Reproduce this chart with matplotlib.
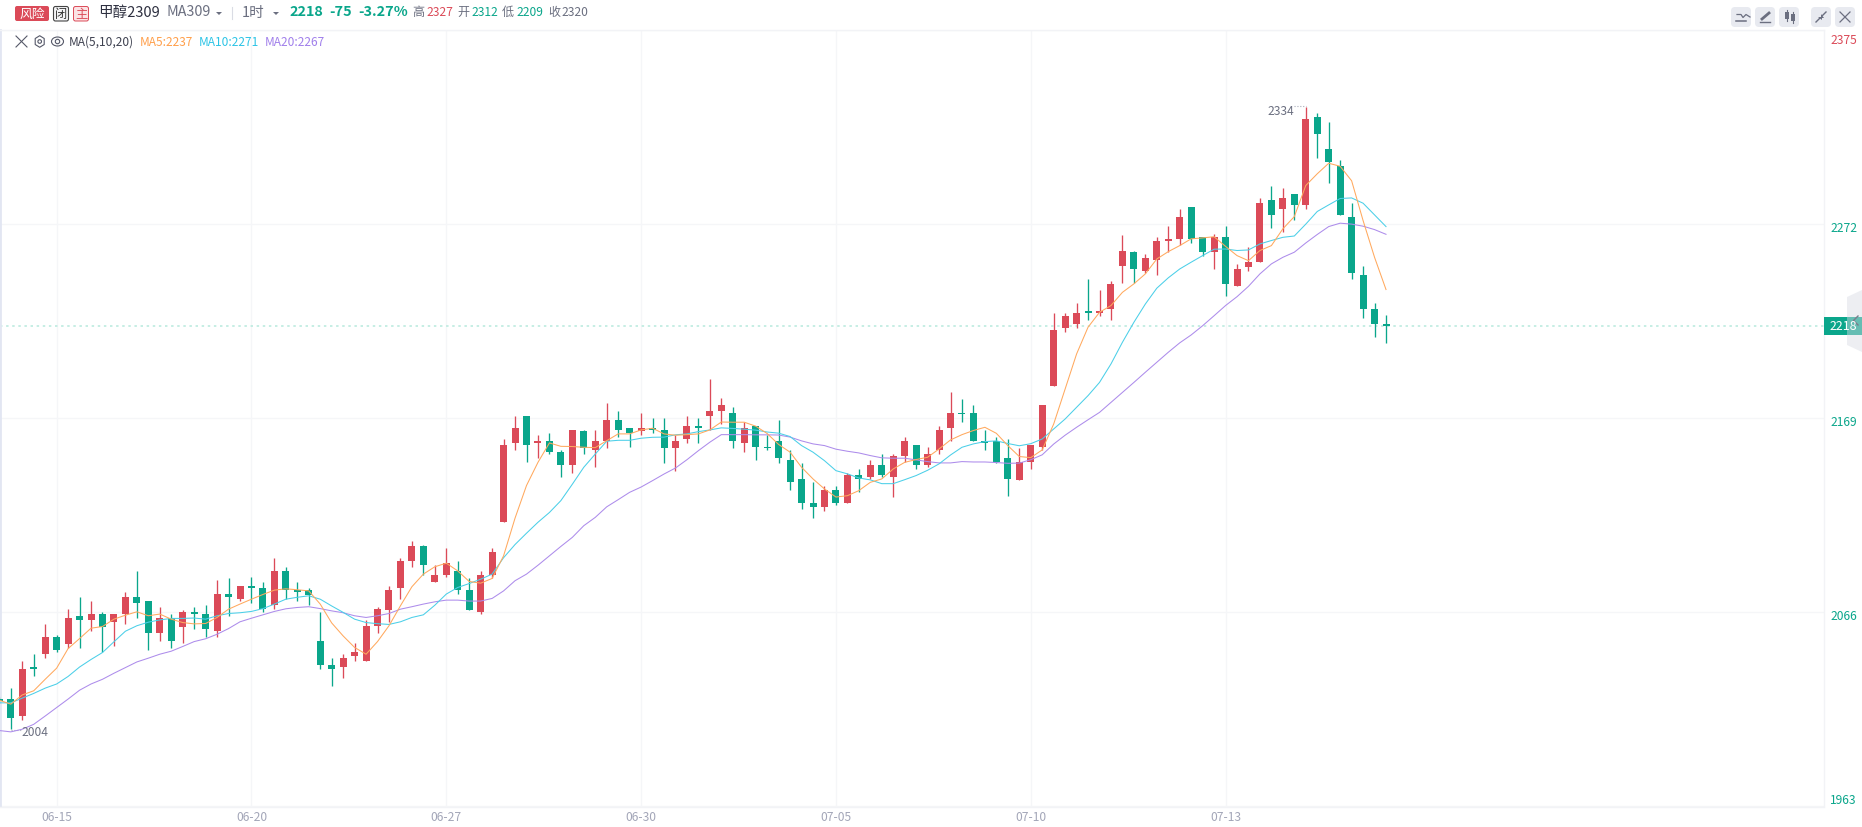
import numpy as np
import matplotlib
matplotlib.use("Agg")
import matplotlib.pyplot as plt
from matplotlib.patches import FancyBboxPatch, Polygon, Rectangle, Ellipse, Circle
from matplotlib.transforms import ScaledTranslation

plt.rcParams['font.family'] = ['Noto Sans CJK SC', 'DejaVu Sans']

candle_index = list(range(-1, 121))
opens = [2020,
2020,2011,2037,2044,2053,2049,2064,2062,2065,2061,
2065,2074,2072,2055,2063,2058,2066,2065,2056,2076,
2073,2080,2079,2070,2088,2078,2078,2051,2038,2037,
2043,2040,2059,2067,2079,2093,2101,2082,2086,2088,
2078,2066,2086,2114,2156,2170,2156,2157,2151,2144,
2162,2152,2157,2168,2164,2162,2164,2163,2153,2158,
2165,2170,2173,2172,2156,2165,2154,2157,2147,2137,
2124,2122,2131,2124,2139,2138,2144,2138,2149,2155,
2144,2152,2164,2172,2172,2157,2157,2148,2136,2146,
2154,2186,2217,2219,2226,2225,2227,2250,2257,2247,
2253,2263,2264,2281,2265,2257,2265,2239,2249,2252,
2285,2280,2288,2282,2329,2312,2303,2276,2245,2227,
2219]
highs = [2021,
2026,2040,2044,2060,2054,2068,2074,2072,2066,2065,
2077,2088,2072,2069,2065,2067,2069,2070,2083,2084,
2080,2085,2082,2095,2090,2082,2079,2066,2042,2044,
2050,2062,2069,2080,2095,2104,2102,2091,2100,2093,
2084,2088,2100,2158,2170,2170,2160,2161,2152,2163,
2163,2163,2177,2173,2164,2172,2169,2169,2160,2170,
2169,2190,2180,2175,2167,2165,2160,2168,2152,2145,
2135,2133,2133,2140,2142,2147,2150,2150,2159,2155,
2154,2165,2183,2179,2176,2163,2159,2158,2153,2155,
2176,2225,2225,2230,2243,2237,2242,2266,2258,2256,
2265,2271,2280,2281,2265,2267,2271,2251,2260,2286,
2292,2291,2288,2334,2331,2326,2306,2283,2250,2230,
2224]
lows = [2018,
2004,2009,2032,2042,2045,2047,2047,2056,2045,2048,
2060,2063,2046,2051,2047,2050,2057,2053,2053,2064,
2072,2071,2066,2068,2073,2072,2070,2036,2027,2031,
2040,2040,2055,2061,2073,2090,2086,2082,2085,2076,
2067,2065,2084,2114,2152,2146,2148,2150,2138,2140,
2150,2143,2153,2159,2154,2160,2161,2145,2141,2156,
2156,2163,2166,2153,2151,2147,2152,2145,2131,2121,
2116,2120,2123,2124,2130,2137,2138,2127,2146,2142,
2143,2150,2157,2167,2157,2152,2145,2128,2136,2142,
2152,2186,2215,2217,2221,2223,2221,2241,2241,2246,
2245,2257,2261,2262,2255,2248,2234,2239,2247,2252,
2270,2268,2274,2280,2307,2294,2277,2243,2222,2212,
2209]
closes = [2019,
2010,2036,2036,2053,2046,2063,2062,2065,2058,2065,
2074,2071,2055,2063,2051,2066,2065,2057,2076,2074,
2080,2079,2068,2088,2078,2077,2075,2038,2036,2042,
2045,2059,2068,2078,2093,2101,2091,2086,2092,2078,
2067,2086,2098,2155,2164,2155,2157,2151,2144,2163,
2153,2157,2168,2163,2161,2164,2163,2153,2157,2165,
2164,2173,2176,2157,2164,2154,2153,2148,2135,2124,
2122,2131,2124,2139,2137,2144,2139,2149,2157,2144,
2150,2163,2172,2171,2157,2156,2146,2137,2146,2155,
2176,2216,2223,2225,2225,2226,2240,2258,2248,2254,
2263,2264,2276,2264,2257,2265,2240,2248,2252,2283,
2277,2286,2282,2328,2320,2305,2277,2246,2227,2219,
2218]
ma5 = [2019.4,
2017.3,2022.2,2024.4,2030.5,2036.4,2046.8,2052.1,2057.6,2058.5,2062.4,
2064.5,2066.3,2064.2,2065.1,2062.4,2060.6,2059.9,2060.1,2063.3,2067.7,
2070.4,2073,2075.5,2077.8,2078.5,2078,2077.4,2070.4,2060.4,2053.5,
2047.4,2043.8,2050.5,2058.9,2069.5,2079.6,2086.3,2090.2,2092.1,2088,
2082.4,2081.5,2084,2096,2116,2133.3,2145.6,2155.9,2154.1,2154,
2153.6,2153.4,2157.1,2160.7,2160.7,2162.8,2163.7,2160.7,2160,2160.3,
2160.7,2162.8,2167,2166.9,2166.9,2164.8,2160.9,2155.1,2151,2143,
2136.8,2131.5,2127.2,2127.9,2130.6,2135,2136.8,2142.1,2145.6,2147.1,
2148.3,2152.7,2157.5,2160.3,2162.5,2164.2,2161,2154.5,2148.7,2148.1,
2152.2,2165.9,2184.5,2203.1,2217.3,2225.2,2228.8,2235.8,2240.3,2245.6,
2253.5,2257.4,2260.6,2264.2,2264.7,2265.3,2260.2,2255.3,2252.6,2258,
2260.6,2269.5,2276,2292.5,2298.7,2304.3,2302.7,2295,2273.9,2254.4,
2237.3]
ma10 = [2018,
2018,2020.5,2023,2025.8,2028,2032,2037,2041,2044.7,2050.4,
2056,2058.9,2060.8,2062,2062.8,2062.8,2063,2062.4,2064.2,2065.4,
2065.8,2066.5,2068,2070.4,2073,2074,2074.8,2073,2069.4,2066,
2062.4,2060.6,2060,2059.6,2061,2063.3,2064.7,2069.8,2075.7,2079.2,
2081.3,2083.6,2086.3,2095,2102,2108,2113.8,2119,2125.3,2134,
2143,2150,2156.8,2157.3,2157.3,2158.4,2158.9,2159,2160.2,2160.7,
2161.9,2162.8,2163.9,2163.6,2163.2,2162.7,2161.7,2161.1,2159.3,2154.5,
2151,2146.5,2141.2,2139.5,2137.3,2136.3,2134.3,2134.3,2136.4,2138.6,
2141.4,2144.8,2149.5,2153.6,2155.4,2156.6,2157,2155.6,2154.4,2155.5,
2158,2163.3,2168.6,2174.8,2181,2188,2197.8,2209.3,2219.9,2229.6,
2238,2243.5,2248.2,2251.8,2255.3,2258.7,2258.8,2258,2258.3,2261.5,
2263.3,2265,2265.7,2272,2278.7,2282.2,2285.6,2285.9,2283.1,2276.9,
2270.7]
ma20 = [2003.3,
2002.6,2004,2006.6,2011,2015.5,2020,2024.7,2028,2030.5,2033.7,
2036.7,2039.7,2041.7,2043.8,2045.4,2047.9,2050.5,2052,2054.4,2057.4,
2061,2062.9,2064.7,2066.5,2067.9,2068.6,2069,2068,2066.8,2065.8,
2064.2,2063.3,2064.2,2065.4,2067.7,2069,2070.4,2071.6,2072.5,2072.5,
2072,2072,2073.4,2077.4,2082.8,2086.3,2091,2096,2101,2105.8,
2112,2116.4,2122,2125.8,2129.7,2132.5,2135.9,2139.4,2142.6,2147,
2151.8,2156.3,2160.3,2160.3,2160.3,2160.2,2160.2,2160.1,2159,2157,
2155.4,2154.5,2152.6,2151.5,2150.6,2149.2,2148,2147.8,2147.8,2146.9,
2146,2145.3,2145.3,2146,2145.8,2145.8,2145.5,2145.1,2145.2,2147,
2149.6,2155.3,2160,2164.2,2168.2,2172.1,2177.4,2182.7,2188,2193.4,
2198.7,2204,2209,2213.2,2218.1,2223.4,2228.8,2233.5,2239,2245.6,
2250.9,2254.4,2257.1,2262,2266.5,2270.7,2272.5,2272,2270.9,2269.1,
2266.6]

price_ticks = [1963, 2066, 2169, 2272, 2375]
price_labels = ['1963', '2066', '2169', '2272', '2375']
date_ticks = [4, 21, 38, 55, 72, 89, 106]
date_labels = ['06-15', '06-20', '06-27', '06-30', '07-05', '07-10', '07-13']
last_price = 2218
high_label = 2334
low_label = 2004

RED = '#DB4A58'
GREEN = '#0AA68B'
ORANGE = '#FFA95E'
CYAN = '#4BCFE8'
PURPLE = '#AD8CEB'
GRID = '#F5F6F8'
GREY = '#6B6F80'
AXTXT = '#A3A6B8'

W, H = 1862, 828
fig = plt.figure(figsize=(W / 100, H / 100), dpi=100, facecolor='white')

L, R, T, B = 0, 1824, 31, 807.5
ax = fig.add_axes([L / W, 1 - B / H, (R - L) / W, (B - T) / H])
step = 11.46
x0 = 10.8
ax.set_xlim((L - x0) / step, (R - x0) / step)
ax.set_ylim(1963, 2375)
ax.set_zorder(1)

ax.set_axisbelow(True)
ax.grid(True, color=GRID, lw=1)
for s in ('top', 'right', 'bottom'):
    ax.spines[s].set_color('#F2F3F6')
    ax.spines[s].set_linewidth(1)
ax.spines['left'].set_color('#E2E6F2')
ax.spines['left'].set_linewidth(2)

ax.set_xticks(date_ticks)
ax.set_xticklabels(date_labels, fontsize=8.7, color=AXTXT)
ax.tick_params(axis='x', length=0, pad=2.5)
ax.yaxis.tick_right()
ax.set_yticks(price_ticks)
ax.set_yticklabels(price_labels, fontsize=8.7)
ax.tick_params(axis='y', length=0, pad=4.5)
offs = {'1963': 8.5, '2066': -2, '2169': -2, '2272': -2, '2375': -8}
for lab in ax.get_yticklabels():
    t = lab.get_text()
    lab.set_color(RED if t == '2375' else GREEN)
    lab.set_transform(lab.get_transform() + ScaledTranslation(0, offs[t] / 100, fig.dpi_scale_trans))

body_w = 7 / step
for i, o, h, l, c in zip(candle_index, opens, highs, lows, closes):
    col = RED if c >= o else GREEN
    ax.vlines(i, l, h, color=col, lw=0.95, zorder=3)
    ax.bar(i, max(o, c) - min(o, c), bottom=min(o, c), width=body_w, color=col, lw=0, zorder=3)

ax.plot(candle_index, ma20, color=PURPLE, lw=0.75, zorder=4)
ax.plot(candle_index, ma10, color=CYAN, lw=0.75, zorder=5)
ax.plot(candle_index, ma5, color=ORANGE, lw=0.75, zorder=6)

ax.axhline(last_price, color='#B7E9DD', lw=1.1, ls=(0, (1.6, 2.4)), zorder=2)

hi_i = candle_index[highs.index(max(highs))]
lo_i = candle_index[lows.index(min(lows))]
ax.plot([hi_i - 1.0, hi_i], [high_label + 0.5] * 2, color='#A9ACB9', lw=0.8, ls=(0, (1, 1.6)), zorder=2)
ax.plot([lo_i, lo_i + 1.0], [low_label - 0.5] * 2, color='#A9ACB9', lw=0.8, ls=(0, (1, 1.6)), zorder=2)
ax.annotate(str(high_label), (hi_i, high_label), xytext=(-12, -3), textcoords='offset pixels',
            ha='right', va='center', fontsize=8.7, color=GREY, zorder=7)
ax.annotate(str(low_label), (lo_i, low_label), xytext=(11, -2), textcoords='offset pixels',
            ha='left', va='center', fontsize=8.7, color=GREY, zorder=7)

ov = fig.add_axes([0, 0, 1, 1], facecolor='none')
ov.set_xlim(0, W)
ov.set_ylim(H, 0)
ov.axis('off')
ov.set_zorder(5)


def T_(x, y, s, size, color, weight='normal', ha='left'):
    ov.text(x, y, s, fontsize=size, color=color, fontweight=weight, ha=ha, va='center')


def box(x, y, w, h, fc, ec='none', lw=0, r=2):
    ov.add_patch(FancyBboxPatch((x + r, y + r), w - 2 * r, h - 2 * r,
                                boxstyle=f'round,pad={r},rounding_size={r}', fc=fc, ec=ec, lw=lw))


box(15, 7, 34, 15, RED)
T_(32, 14, '风险', 9.2, 'white', ha='center')
box(53.5, 7.5, 15, 14.5, '#F4F4F6', '#444', 0.8)
T_(61, 14.5, '闭', 8.8, '#333', ha='center')
box(73.5, 7.5, 15, 14.5, '#FBE3E5', RED, 0.7)
T_(81, 14.5, '主', 8.8, RED, ha='center')

T_(98.5, 12.5, '甲醇2309', 10.5, '#2E3040')
T_(166, 12.5, 'MA309', 10.3, '#6B6F80')
ov.add_patch(Polygon([[216, 13], [222, 13], [219, 16]], fc='#6B6F80', ec='none'))
ov.plot([232, 232], [8, 20], color='#DADCE4', lw=0.8)
T_(242, 12.5, '1时', 10.5, '#6B6F80')
ov.add_patch(Polygon([[273, 13], [279, 13], [276, 16]], fc='#6B6F80', ec='none'))
T_(289, 12.5, '2218', 10.4, GREEN, 'bold')
T_(329, 12.5, '-75', 10.4, GREEN, 'bold')
T_(358, 12.5, '-3.27%', 10.4, GREEN, 'bold')
for x, s, c in [(412, '高', GREY), (426, '2327', RED), (457.5, '开', GREY), (471, '2312', GREEN),
                (502, '低', GREY), (516, '2209', GREEN), (548, '收', GREY), (561.5, '2320', GREY)]:
    T_(x, 12.5, s, 8.7, c)

ov.plot([16, 27], [37, 48], color='#555868', lw=0.8)
ov.plot([27, 16], [37, 48], color='#555868', lw=0.8)
hx = 39.7
ov.add_patch(Polygon([[hx - 4.5, 39.5], [hx, 36.7], [hx + 4.5, 39.5], [hx + 4.5, 45.5], [hx, 48.3], [hx - 4.5, 45.5]],
                     fc='none', ec='#555868', lw=0.8))
ov.add_patch(Circle((hx, 42.5), 1.8, fc='none', ec='#555868', lw=0.8))
ov.add_patch(Ellipse((57.5, 42.5), 12, 9, fc='none', ec='#555868', lw=0.8))
ov.add_patch(Circle((57.5, 42.5), 2.2, fc='none', ec='#555868', lw=0.8))
T_(69, 42, 'MA(5,10,20)', 8.6, '#3E4150')
T_(140, 42, 'MA5:2237', 8.6, '#FF9F4A')
T_(199, 42, 'MA10:2271', 8.6, '#2CC4E6')
T_(265, 42, 'MA20:2267', 8.6, '#A07FEB')

ICON = '#6B6F80'
for bx in (1731, 1755, 1779, 1811, 1835):
    box(bx, 8, 20, 20, '#E8EAF0', r=4)
ov.plot([1737, 1741, 1743, 1746, 1750], [15.5, 15.5, 18.5, 15.5, 18], color=ICON, lw=0.9)
ov.plot([1736, 1746], [22, 22], color=ICON, lw=1.1)
ov.plot([1762, 1769], [20, 14], color=ICON, lw=2.0)
ov.plot([1760, 1770], [23, 23], color=ICON, lw=1.0)
ov.add_patch(Rectangle((1785, 13), 3.5, 7, fc=ICON, ec='none'))
ov.plot([1786.7, 1786.7], [11, 22], color=ICON, lw=0.8)
ov.add_patch(Rectangle((1791, 15), 3.5, 7, fc=ICON, ec='none'))
ov.plot([1792.7, 1792.7], [13, 24], color=ICON, lw=0.8)
ov.plot([1816, 1819.5], [23, 19.5], color=ICON, lw=1.0)
ov.plot([1822.5, 1826], [16.5, 13], color=ICON, lw=1.0)
ov.add_patch(Polygon([[1818, 17.5], [1821.5, 17.5], [1821.5, 21]], fc=ICON, ec='none'))
ov.add_patch(Polygon([[1820.5, 15], [1820.5, 18.5], [1824, 18.5]], fc=ICON, ec='none'))
ov.plot([1840, 1850], [13, 23], color=ICON, lw=0.9)
ov.plot([1850, 1840], [13, 23], color=ICON, lw=0.9)

ov.add_patch(Rectangle((1824, 318), 38, 18, fc=GREEN, ec='none'))
T_(1843, 327, str(last_price), 8.9, 'white', ha='center')
ov.add_patch(Polygon([[1847, 298], [1862, 291], [1862, 353], [1847, 346]], fc='#D8DBE4', ec='none', alpha=0.45))
ov.plot([1858, 1853.5, 1858], [317, 321.5, 326], color='#7A7D8C', lw=1.0)

fig.savefig('out.png', dpi=100)
